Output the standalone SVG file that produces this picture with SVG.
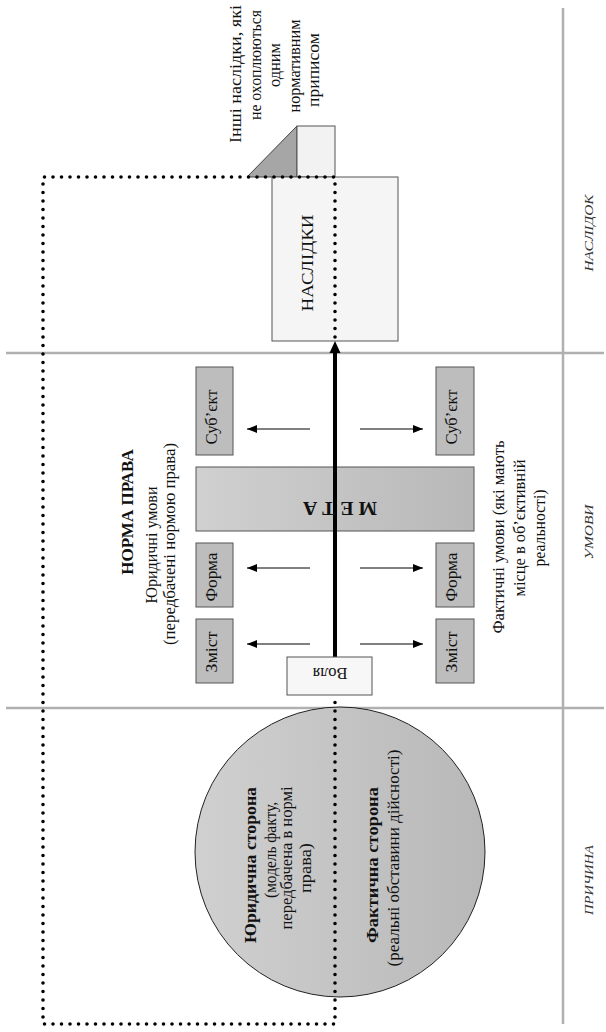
<svg xmlns="http://www.w3.org/2000/svg" width="606" height="1032" viewBox="0 0 606 1032">
<defs>
  <linearGradient id="gGray" x1="0" y1="0" x2="1" y2="0">
    <stop offset="0" stop-color="#d0d0d0"/>
    <stop offset="1" stop-color="#b8b8b8"/>
  </linearGradient>
  <marker id="ah" viewBox="0 0 10 8" refX="10" refY="4" markerWidth="10" markerHeight="8" markerUnits="userSpaceOnUse" orient="auto">
    <path d="M0,0 L10,4 L0,8 z" fill="#000"/>
  </marker>
</defs>
<style>
  .sep{stroke:#b0b0b0;stroke-width:2.5;fill:none}
  text{font-family:'Liberation Serif','DejaVu Serif',serif}
  .t{fill:#111;font-size:16px}
  .b{font-weight:bold}
  .lab{font-style:italic;font-size:13px;fill:#333}
  .box{fill:#bdbdbd;stroke:#555;stroke-width:1}
  .light{fill:#f5f5f5;stroke:#555;stroke-width:1}
  .dot{fill:none;stroke:#000;stroke-width:3.6;stroke-linecap:round;stroke-dasharray:0 8.5}
  .arr{stroke:#000;stroke-width:1;fill:none;marker-end:url(#ah)}
</style>
<rect width="606" height="1032" fill="#fff"/>

<g id="separators">
  <line class="sep" x1="6" y1="353" x2="604" y2="353"/>
  <line class="sep" x1="6" y1="708" x2="604" y2="708"/>
  <line class="sep" x1="563" y1="8" x2="563" y2="1024"/>
</g>

<g id="section-labels">
  <text class="lab" font-family="Liberation Serif, serif" text-anchor="middle" textLength="77" lengthAdjust="spacingAndGlyphs" transform="translate(593,233) rotate(-90)">НАСЛІДОК</text>
  <text class="lab" font-family="Liberation Serif, serif" text-anchor="middle" textLength="55" lengthAdjust="spacingAndGlyphs" transform="translate(593,532) rotate(-90)">УМОВИ</text>
  <text class="lab" font-family="Liberation Serif, serif" text-anchor="middle" textLength="70" lengthAdjust="spacingAndGlyphs" transform="translate(593,880) rotate(-90)">ПРИЧИНА</text>
</g>

<g id="norma-title">
  <text class="t b" style="font-size:17px" text-anchor="middle" transform="translate(133,512) rotate(-90)">НОРМА ПРАВА</text>
</g>

<g id="node-inshi">
  <polygon points="247,177 297,126 297,177" fill="#a6a6a6" stroke="#444" stroke-width="1"/>
  <rect x="297" y="126" width="38" height="51" fill="#f2f2f2" stroke="#555" stroke-width="1"/>
  <text class="t" text-anchor="middle" textLength="138" lengthAdjust="spacingAndGlyphs" transform="translate(241,74) rotate(-90)">Інші наслідки, які</text>
  <text class="t" text-anchor="middle" textLength="110" lengthAdjust="spacingAndGlyphs" transform="translate(261,65) rotate(-90)">не охоплюються</text>
  <text class="t" text-anchor="middle" textLength="44" lengthAdjust="spacingAndGlyphs" transform="translate(280,65) rotate(-90)">одним</text>
  <text class="t" text-anchor="middle" textLength="93" lengthAdjust="spacingAndGlyphs" transform="translate(300,66) rotate(-90)">нормативним</text>
  <text class="t" text-anchor="middle" textLength="74" lengthAdjust="spacingAndGlyphs" transform="translate(319,70) rotate(-90)">приписом</text>
</g>

<g id="node-naslidky">
  <rect class="light" x="272" y="177" width="126" height="164"/>
  <text class="t" text-anchor="middle" textLength="97" lengthAdjust="spacingAndGlyphs" transform="translate(313,263) rotate(-90)">НАСЛІДКИ</text>
</g>

<g id="node-yurydychni-umovy">
  <text class="t" text-anchor="middle" textLength="117" lengthAdjust="spacingAndGlyphs" transform="translate(157,545) rotate(-90)">Юридичні умови</text>
  <text class="t" text-anchor="middle" textLength="202" lengthAdjust="spacingAndGlyphs" transform="translate(175,544) rotate(-90)">(передбачені нормою права)</text>
</g>

<g id="node-faktychni-umovy">
  <text class="t" text-anchor="middle" textLength="193" lengthAdjust="spacingAndGlyphs" transform="translate(504,537) rotate(-90)">Фактичні умови (які мають</text>
  <text class="t" text-anchor="middle" textLength="137" lengthAdjust="spacingAndGlyphs" transform="translate(525,528) rotate(-90)">місце в об’єктивній</text>
  <text class="t" text-anchor="middle" textLength="77" lengthAdjust="spacingAndGlyphs" transform="translate(545,528) rotate(-90)">реальності)</text>
</g>

<g id="node-subiekt-left">
  <rect class="box" x="196" y="367" width="37" height="88"/>
  <text class="t" text-anchor="middle" textLength="55" lengthAdjust="spacingAndGlyphs" transform="translate(217,417) rotate(-90)">Суб’єкт</text>
</g>
<g id="node-forma-left">
  <rect class="box" x="196" y="543" width="37" height="64"/>
  <text class="t" text-anchor="middle" textLength="49" lengthAdjust="spacingAndGlyphs" transform="translate(217,577) rotate(-90)">Форма</text>
</g>
<g id="node-zmist-left">
  <rect class="box" x="196" y="619" width="37" height="64"/>
  <text class="t" text-anchor="middle" textLength="41" lengthAdjust="spacingAndGlyphs" transform="translate(217,652) rotate(-90)">Зміст</text>
</g>
<g id="node-subiekt-right">
  <rect class="box" x="436" y="367" width="38" height="88"/>
  <text class="t" text-anchor="middle" textLength="55" lengthAdjust="spacingAndGlyphs" transform="translate(457,417) rotate(-90)">Суб’єкт</text>
</g>
<g id="node-forma-right">
  <rect class="box" x="436" y="543" width="38" height="64"/>
  <text class="t" text-anchor="middle" textLength="49" lengthAdjust="spacingAndGlyphs" transform="translate(457,577) rotate(-90)">Форма</text>
</g>
<g id="node-zmist-right">
  <rect class="box" x="436" y="619" width="38" height="64"/>
  <text class="t" text-anchor="middle" textLength="41" lengthAdjust="spacingAndGlyphs" transform="translate(457,652) rotate(-90)">Зміст</text>
</g>

<g id="node-meta">
  <rect x="196" y="467" width="278" height="64" fill="url(#gGray)" stroke="#555" stroke-width="1"/>
</g>

<g id="node-prychyna">
  <circle cx="340" cy="852" r="145" fill="url(#gGray)" stroke="#222" stroke-width="1"/>
  <text class="t b" text-anchor="middle" textLength="156" lengthAdjust="spacingAndGlyphs" transform="translate(256,865) rotate(-90)">Юридична сторона</text>
  <text class="t" text-anchor="middle" textLength="96" lengthAdjust="spacingAndGlyphs" transform="translate(276,850) rotate(-90)">(модель факту,</text>
  <text class="t" text-anchor="middle" textLength="143" lengthAdjust="spacingAndGlyphs" transform="translate(292,858) rotate(-90)">передбачена в нормі</text>
  <text class="t" text-anchor="middle" textLength="50" lengthAdjust="spacingAndGlyphs" transform="translate(311,868) rotate(-90)">права)</text>
  <text class="t b" text-anchor="middle" textLength="156" lengthAdjust="spacingAndGlyphs" transform="translate(378,865) rotate(-90)">Фактична сторона</text>
  <text class="t" text-anchor="middle" textLength="217" lengthAdjust="spacingAndGlyphs" transform="translate(399,858) rotate(-90)">(реальні обставини дійсності)</text>
</g>

<g id="connectors">
  <path class="dot" d="M335,337 V177 H43 V1024 H335 V698"/>
  <line x1="335" y1="657" x2="335" y2="351" stroke="#000" stroke-width="4"/>
  <polygon points="335,341 329.5,353 340.5,353" fill="#000"/>
  <line class="arr" x1="310" y1="429" x2="247" y2="429"/>
  <line class="arr" x1="310" y1="568" x2="247" y2="568"/>
  <line class="arr" x1="310" y1="644" x2="247" y2="644"/>
  <line class="arr" x1="360" y1="429" x2="423" y2="429"/>
  <line class="arr" x1="360" y1="568" x2="423" y2="568"/>
  <line class="arr" x1="360" y1="644" x2="423" y2="644"/>
</g>

<g id="node-meta-label">
  <text class="t b" style="font-size:18px" text-anchor="middle" textLength="74" lengthAdjust="spacingAndGlyphs" transform="translate(340,502) rotate(180)">М Е Т А</text>
</g>

<g id="node-volia">
  <rect x="287" y="657" width="85" height="38" fill="#f7f7f7" stroke="#555" stroke-width="1"/>
  <text class="t" text-anchor="middle" textLength="35" lengthAdjust="spacingAndGlyphs" transform="translate(330,668) rotate(180)">Воля</text>
</g>
</svg>
